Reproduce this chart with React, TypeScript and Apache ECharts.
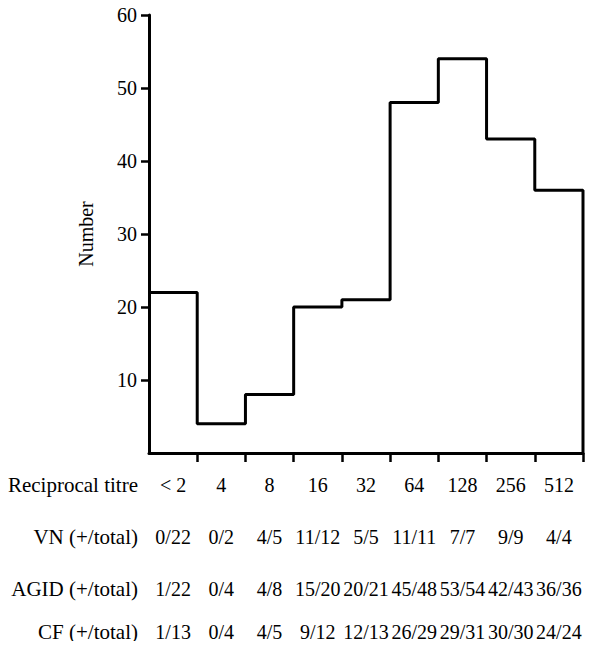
import React, { useEffect, useRef } from "react";
import * as echarts from "echarts";

const titres = ["< 2", "4", "8", "16", "32", "64", "128", "256", "512"];
const counts = [22, 4, 8, 20, 21, 48, 54, 43, 36];
const vnRow = ["0/22", "0/2", "4/5", "11/12", "5/5", "11/11", "7/7", "9/9", "4/4"];
const agidRow = ["1/22", "0/4", "4/8", "15/20", "20/21", "45/48", "53/54", "42/43", "36/36"];
const cfRow = ["1/13", "0/4", "4/5", "9/12", "12/13", "26/29", "29/31", "30/30", "24/24"];
const rowTitles = ["Reciprocal titre", "VN (+/total)", "AGID (+/total)", "CF (+/total)"];
const yTicks = [10, 20, 30, 40, 50, 60];

const FONT = "Liberation Serif";
const FS = 20;
const FS_TITLE = 21;

export default function App() {
  const ref = useRef<HTMLDivElement>(null);
  useEffect(() => {
    if (!ref.current) return;
    const chart = echarts.init(ref.current, undefined, { renderer: "svg" });
    const stepData: number[][] = counts.map((v, i) => [i, v]);
    stepData.push([counts.length, counts[counts.length - 1]]);
    stepData.push([counts.length, 0]);

    const rows = [titres, vnRow, agidRow, cfRow];
    const offsets = [0, 52, 104, 147];
    const rowY = [485, 537, 589, 632];

    const catAxes = rows.map((r, k) => ({
      type: "category" as const,
      data: r,
      position: "bottom" as const,
      offset: offsets[k],
      gridIndex: 0,
      axisLine: { show: false },
      axisTick: { show: false },
      splitLine: { show: false },
      axisLabel: {
        margin: 22,
        color: "#000",
        fontFamily: FONT,
        fontSize: FS,
        interval: 0,
      },
    }));

    chart.setOption({
      animation: false,
      backgroundColor: "#fff",
      grid: { left: 149, right: 16, top: 15, bottom: 196, containLabel: false },
      xAxis: [
        {
          type: "value",
          min: 0,
          max: counts.length,
          interval: 1,
          position: "bottom",
          axisLine: { show: true, lineStyle: { color: "#000", width: 3 } },
          axisTick: {
            show: true,
            length: 9,
            lineStyle: { color: "#000", width: 2.5 },
            customValues: counts.map((_, i) => i + 1),
          },
          axisLabel: { show: false },
          splitLine: { show: false },
        },
        ...catAxes,
      ],
      yAxis: {
        type: "value",
        min: 0,
        max: 60,
        interval: 10,
        name: "Number",
        nameLocation: "middle",
        nameRotate: 90,
        nameGap: 53,
        nameTextStyle: { color: "#000", fontFamily: FONT, fontSize: FS },
        axisLine: { show: true, lineStyle: { color: "#000", width: 3 } },
        axisTick: {
          show: true,
          length: 8,
          lineStyle: { color: "#000", width: 2.5 },
          customValues: yTicks,
        },
        axisLabel: {
          margin: 12,
          color: "#000",
          fontFamily: FONT,
          fontSize: FS,
          customValues: yTicks,
          formatter: (v: number) => (v === 0 ? "" : String(v)),
        },
        splitLine: { show: false },
      },
      graphic: rowTitles.map((t, k) => ({
        type: "text",
        x: 138,
        y: rowY[k],
        style: {
          text: t,
          fill: "#000",
          font: `${FS_TITLE}px "${FONT}"`,
          align: "right",
          verticalAlign: "middle",
        },
      })),
      series: [
        {
          type: "line",
          xAxisIndex: 0,
          yAxisIndex: 0,
          step: "end",
          data: stepData,
          symbol: "none",
          lineStyle: { color: "#000", width: 3 },
        },
      ],
    });
    return () => chart.dispose();
  }, []);
  return <div ref={ref} style={{ width: 599, height: 649, margin: -8 }} />;
}
